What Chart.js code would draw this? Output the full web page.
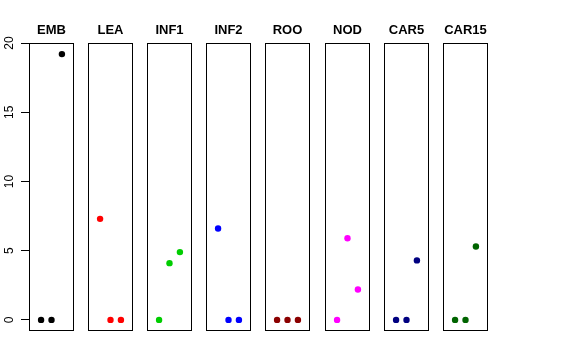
<!DOCTYPE html>
<html><head><meta charset="utf-8">
<script src="https://cdn.jsdelivr.net/npm/chart.js@4/dist/chart.umd.min.js"></script>
<style>
html,body{margin:0;padding:0;background:#fff;}
#wrap{position:relative;width:576px;height:360px;overflow:hidden;}
#wrap canvas{position:absolute;top:0;}
</style></head>
<body><div id="wrap"></div>
<script>
const panels = ['EMB','LEA','INF1','INF2','ROO','NOD','CAR5','CAR15'];
const positions = [1, 2, 3];
const EMB   = [0, 0, 19.2];
const LEA   = [7.3, 0, 0];
const INF1  = [0, 4.1, 4.9];
const INF2  = [6.6, 0, 0];
const ROO   = [0, 0, 0];
const NOD   = [0, 5.9, 2.2];
const CAR5  = [0, 0, 4.3];
const CAR15 = [0, 0, 5.3];
const yTicks = [0, 5, 10, 15, 20];
const seriesValues = [EMB, LEA, INF1, INF2, ROO, NOD, CAR5, CAR15];
const colors = ['#000000','#FF0000','#00CD00','#0000FF','#8B0000','#FF00FF','#000080','#006400'];

const boxPlugin = {
  id: 'box',
  afterDraw(chart) {
    const a = chart.chartArea, ctx = chart.ctx;
    ctx.save();
    ctx.strokeStyle = '#000';
    ctx.lineWidth = 1;
    ctx.strokeRect(Math.round(a.left) + 0.5, Math.round(a.top) + 0.5,
                   Math.round(a.right - a.left) - 1, Math.round(a.bottom - a.top) - 1);
    // panel title centred over the panel box
    ctx.fillStyle = '#000';
    ctx.font = 'bold 13px "Liberation Sans", Arial, sans-serif';
    ctx.textAlign = 'center';
    ctx.textBaseline = 'middle';
    ctx.fillText(chart.options.panelTitle, (a.left + a.right) / 2, 30);
    ctx.restore();
  }
};
const yLabelPlugin = {
  id: 'ylabels',
  afterDraw(chart) {
    const s = chart.scales.y;
    if (!s.options.display) return;
    const ctx = chart.ctx;
    ctx.save();
    ctx.fillStyle = '#000';
    ctx.font = '12px "Liberation Sans", Arial, sans-serif';
    ctx.textAlign = 'center';
    ctx.textBaseline = 'middle';
    s.ticks.forEach(t => {
      const py = s.getPixelForValue(t.value);
      ctx.save();
      ctx.translate(10, py);
      ctx.rotate(-Math.PI / 2);
      ctx.fillText(String(t.value), 0, 0);
      ctx.restore();
    });
    ctx.restore();
  }
};

const wrap = document.getElementById('wrap');
const panelLeft0 = 29, panelStep = 59.1, panelW = 45, axisW = 29;

panels.forEach((name, i) => {
  const first = i === 0;
  const left = Math.round(panelLeft0 + i * panelStep);
  const cv = document.createElement('canvas');
  const cw = first ? left + panelW : panelW;
  cv.width = cw; cv.height = 360;
  cv.style.width = cw + 'px'; cv.style.height = '360px';
  cv.style.left = (first ? 0 : left) + 'px';
  wrap.appendChild(cv);
  new Chart(cv, {
    type: 'scatter',
    data: {
      datasets: [{
        data: positions.map((p, k) => ({x: p, y: seriesValues[i][k]})),
        backgroundColor: colors[i],
        borderColor: colors[i],
        borderWidth: 0,
        pointRadius: 3.2,
        pointHoverRadius: 3.2
      }]
    },
    options: {
      panelTitle: name,
      responsive: false,
      animation: false,
      devicePixelRatio: 1,
      events: [],
      layout: {autoPadding: false, padding: {top: 43, bottom: 29, left: 0, right: 0}},
      plugins: {
        legend: {display: false},
        tooltip: {enabled: false},
        title: {display: false}
      },
      scales: {
        x: {type: 'linear', min: -0.16, max: 4.16, display: false},
        y: {
          type: 'linear', min: -0.8, max: 20.0,
          display: first,
          afterBuildTicks: s => { s.ticks = yTicks.map(v => ({value: v})); },
          afterFit: s => { s.width = first ? axisW : 0; },
          ticks: {display: false},
          border: {display: false},
          grid: {drawOnChartArea: false, drawTicks: true, tickLength: 8, color: '#000', lineWidth: 1}
        }
      }
    },
    plugins: [boxPlugin, yLabelPlugin]
  });
});
</script></body></html>
